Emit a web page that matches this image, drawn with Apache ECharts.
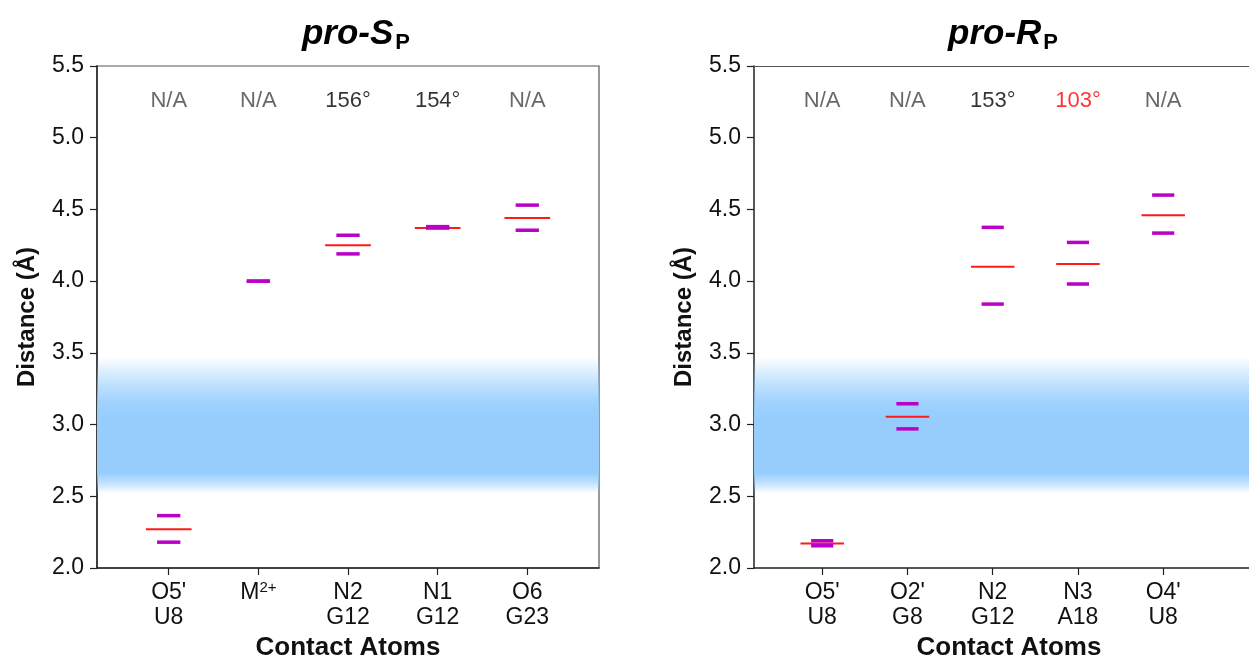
<!DOCTYPE html>
<html>
<head>
<meta charset="utf-8">
<script src="https://cdn.jsdelivr.net/npm/echarts@6/dist/echarts.min.js"></script>
<style>
html,body{margin:0;padding:0;background:#fff;overflow:hidden;}
#chart{width:1249px;height:659px;}
</style>
</head>
<body>
<div id="chart"></div>
<script>
// ---------- data ----------
const xPositions = [1, 2, 3, 4, 5];
const catsS = ["O5'\nU8", "M2+", "N2\nG12", "N1\nG12", "O6\nG23"];
const catsR = ["O5'\nU8", "O2'\nG8", "N2\nG12", "N3\nA18", "O4'\nU8"];
const yTicks = [2.0, 2.5, 3.0, 3.5, 4.0, 4.5, 5.0, 5.5];

// pro-S_P : mean (red) and upper / lower (purple)
const meanS  = [2.27, null, 4.25, 4.37, 4.44];
const upperS = [2.365, 4.0, 4.32, 4.38, 4.53];
const lowerS = [2.18, 4.0, 4.19, 4.37, 4.355];
const angleS = ["N/A", "N/A", "156°", "154°", "N/A"];
const angleColorS = ["#424242", "#424242", "#000000", "#000000", "#424242"];

// pro-R_P
const meanR  = [2.17, 3.055, 4.10, 4.12, 4.46];
const upperR = [2.19, 3.145, 4.375, 4.27, 4.60];
const lowerR = [2.155, 2.97, 3.84, 3.98, 4.335];
const angleR = ["N/A", "N/A", "153°", "103°", "N/A"];
const angleColorR = ["#424242", "#424242", "#000000", "#ff0000", "#424242"];

const annotY = 5.256;
const bandLow = 2.52, bandHigh = 3.47;

// ---------- helpers ----------
const FONT = "'Liberation Sans', Arial, Helvetica, sans-serif";
const RED = '#ff1a1a';
const PURPLE = '#bb00c8';

function pairs(vals) {
  const out = [];
  vals.forEach((v, i) => { if (v !== null) out.push([xPositions[i], v]); });
  return out;
}

function segSeries(idx, vals, halfWidth, color, lw, z) {
  return {
    type: 'custom',
    xAxisIndex: idx, yAxisIndex: idx,
    z: z,
    silent: true,
    data: pairs(vals),
    renderItem: function (params, api) {
      const x = api.value(0), y = api.value(1);
      const p1 = api.coord([x - halfWidth, y]);
      const p2 = api.coord([x + halfWidth, y]);
      return {
        type: 'line',
        shape: { x1: p1[0], y1: p1[1], x2: p2[0], y2: p2[1] },
        style: { stroke: color, lineWidth: lw }
      };
    }
  };
}

function annotSeries(idx, texts, colors) {
  return {
    type: 'scatter',
    xAxisIndex: idx, yAxisIndex: idx,
    symbolSize: 0,
    silent: true,
    z: 5,
    data: texts.map((t, i) => ({
      value: [xPositions[i], annotY],
      label: {
        show: true, position: 'inside', formatter: t,
        color: colors[i], fontSize: 22, fontFamily: FONT
      }
    })),
    markArea: {
      silent: true,
      z: 1,
      itemStyle: {
        color: {
          type: 'linear', x: 0, y: 0, x2: 0, y2: 1,
          colorStops: [
            { offset: 0.00, color: 'rgba(150,205,253,0)' },
            { offset: 0.08, color: 'rgba(150,205,253,0.25)' },
            { offset: 0.20, color: 'rgba(150,205,253,0.6)' },
            { offset: 0.34, color: 'rgba(150,205,253,0.92)' },
            { offset: 0.45, color: 'rgba(150,205,253,1)' },
            { offset: 0.85, color: 'rgba(150,205,253,1)' },
            { offset: 0.93, color: 'rgba(150,205,253,0.55)' },
            { offset: 1.00, color: 'rgba(150,205,253,0)' }
          ]
        }
      },
      data: [[{ yAxis: bandLow }, { yAxis: bandHigh }]]
    }
  };
}

function xAxisDef(idx, cats, max) {
  return {
    type: 'value', gridIndex: idx, min: 0.2, max: max,
    splitLine: { show: false },
    axisLine: { show: true, onZero: false, lineStyle: { color: '#222', width: 1.5 } },
    axisTick: { show: true, customValues: xPositions, length: 7, lineStyle: { color: '#222', width: 1.2 } },
    axisLabel: {
      customValues: xPositions,
      margin: 12,
      color: '#111', fontSize: 23, fontFamily: FONT, lineHeight: 25,
      formatter: function (v) {
        const s = cats[Math.round(v) - 1] || '';
        if (s === 'M2+') return 'M{sup|2+}';
        return s;
      },
      rich: {
        sup: { fontSize: 15, fontFamily: FONT, color: '#111', verticalAlign: 'top', lineHeight: 8 }
      }
    },
    name: 'Contact Atoms',
    nameLocation: 'middle',
    nameGap: 67,
    nameTextStyle: { fontSize: 26, fontWeight: 'bold', color: '#111', fontFamily: FONT }
  };
}

// top frame line for the right panel (its right edge lies outside the picture)
function topLineAxis(idx, max) {
  return {
    type: 'value', gridIndex: idx, position: 'top', min: 0.2, max: max,
    splitLine: { show: false },
    axisLine: { show: true, onZero: false, lineStyle: { color: '#555', width: 1.2 } },
    axisTick: { show: false }, axisLabel: { show: false }
  };
}

function yAxisDef(idx) {
  return {
    type: 'value', gridIndex: idx, min: 2.0, max: 5.5, interval: 0.5,
    splitLine: { show: false },
    axisLine: { show: true, onZero: false, lineStyle: { color: '#222', width: 1.5 } },
    axisTick: { show: true, length: 7, lineStyle: { color: '#222', width: 1.2 } },
    axisLabel: {
      margin: 13, color: '#111', fontSize: 23, fontFamily: FONT,
      formatter: v => v.toFixed(1)
    },
    name: 'Distance (Å)',
    nameLocation: 'middle',
    nameGap: 58,
    nameTextStyle: { fontSize: 24, fontWeight: 'bold', color: '#111', fontFamily: FONT }
  };
}

function titleDef(center, main) {
  return {
    text: '{a|' + main + '}{b|P}',
    left: center, top: 14, textAlign: 'center', padding: 0,
    textStyle: {
      rich: {
        a: { fontSize: 35, fontWeight: 'bold', fontStyle: 'italic', fontFamily: FONT, color: '#000', lineHeight: 40 },
        b: { fontSize: 22, fontWeight: 'bold', fontFamily: FONT, color: '#000', lineHeight: 12, verticalAlign: 'bottom', padding: [0, 0, 0, 2] }
      }
    }
  };
}

const rightMax = 0.2 + 510 / 85.25;

const chart = echarts.init(document.getElementById('chart'), null, { renderer: 'canvas' });
chart.setOption({
  backgroundColor: '#fff',
  animation: false,
  title: [titleDef(356, 'pro-S'), titleDef(1003, 'pro-R')],
  grid: [
    { left: 97, top: 66, width: 502, height: 502, outerBoundsMode: 'none', containLabel: false,
      show: true, borderColor: '#555', borderWidth: 1.2, backgroundColor: 'transparent' },
    { left: 754, top: 66, width: 510, height: 502, outerBoundsMode: 'none', containLabel: false,
      show: false }
  ],
  xAxis: [xAxisDef(0, catsS, 5.8), xAxisDef(1, catsR, rightMax), topLineAxis(1, rightMax)],
  yAxis: [yAxisDef(0), yAxisDef(1)],
  series: [
    annotSeries(0, angleS, angleColorS),
    segSeries(0, meanS, 0.255, RED, 2, 10),
    segSeries(0, upperS, 0.13, PURPLE, 3.5, 11),
    segSeries(0, lowerS, 0.13, PURPLE, 3.5, 11),
    annotSeries(1, angleR, angleColorR),
    segSeries(1, meanR, 0.255, RED, 2, 10),
    segSeries(1, upperR, 0.13, PURPLE, 3.5, 11),
    segSeries(1, lowerR, 0.13, PURPLE, 3.5, 11)
  ]
});
</script>
</body>
</html>
